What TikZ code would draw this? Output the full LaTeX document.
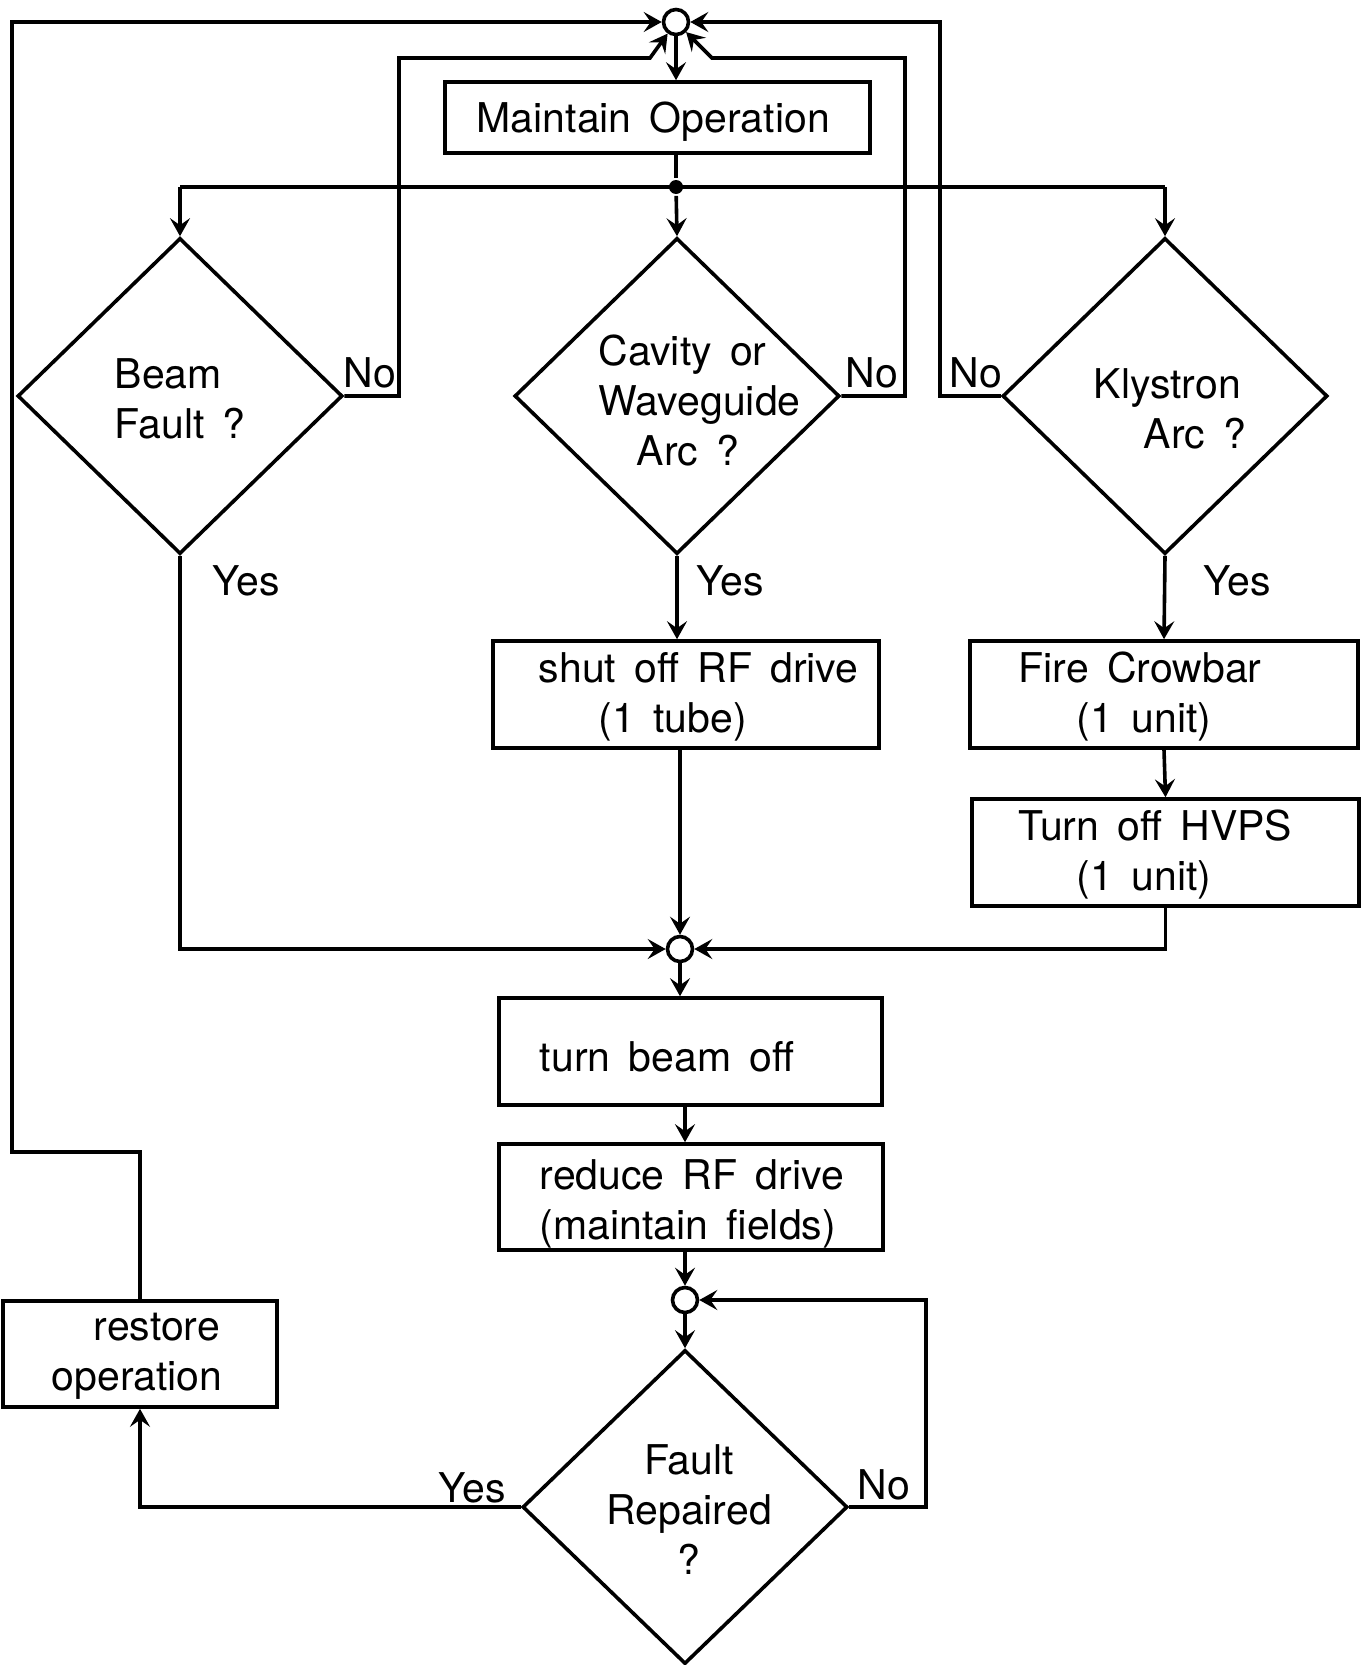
\documentclass[tikz,border=0pt]{standalone}
\usepackage{fontspec}
\setmainfont{TeX Gyre Heros}[WordSpace=1.6]
\usetikzlibrary{shapes.geometric,arrows.meta}
\begin{document}
\begin{tikzpicture}[x=0.5pt,y=-0.5pt,
  line width=1.8pt,
  >={Stealth[length=9pt,width=10pt,inset=3.5pt]},
  box/.style={draw,rectangle,inner sep=0pt},
  dia/.style={draw,diamond,inner sep=0pt,minimum width=162.5pt,minimum height=158pt},
  junc/.style={draw,circle,inner sep=0pt,minimum size=12.5pt,fill=white},
  jdot/.style={fill,circle,inner sep=0pt,minimum size=7pt},
  txt/.style={font=\fontsize{20.5}{25}\selectfont,inner sep=0pt},
  lbl/.style={font=\fontsize{20.5}{25}\selectfont,inner sep=0pt}]
\useasboundingbox (0,0) rectangle (1361,1665);

% junctions
\node[junc] (tc) at (676,22) {};
\node[jdot] (jd) at (676,187) {};
\node[junc] (mc) at (680,949) {};
\node[junc] (bc) at (685,1300) {};

% boxes
\node[box,minimum width=212.5pt,minimum height=35.5pt] (mo) at (657.5,117.5) {};
\node[box,minimum width=193pt,minimum height=53.5pt] (sh) at (686,694.5) {};
\node[box,minimum width=194pt,minimum height=53.5pt] (fc) at (1164,694.5) {};
\node[box,minimum width=193.5pt,minimum height=53.5pt] (hv) at (1165.5,852.5) {};
\node[box,minimum width=191.5pt,minimum height=53.5pt] (bo) at (690.5,1051.5) {};
\node[box,minimum width=192pt,minimum height=53pt] (rd) at (691,1197) {};
\node[box,minimum width=137pt,minimum height=53pt] (rs) at (140,1354) {};

% diamonds
\node[dia] (d1) at (180,396) {};
\node[dia] (d2) at (677,396) {};
\node[dia] (d3) at (1165,396) {};
\node[dia,minimum height=157pt] (d4) at (685,1507) {};

% texts
\node[txt,anchor=west] (tmo) at (475,122) {Maintain Operation};
\node[txt,anchor=west,align=left] (td1) at (113,399) {Beam\\Fault ?};
\node[txt,anchor=west,align=left] (td2) at (597,400) {Cavity or\\Waveguide\\\hspace*{19pt}Arc ?};
\node[txt,anchor=west,align=left] (td3) at (1092,409) {Klystron\\\hspace*{25pt}Arc ?};
\node[txt,anchor=west,align=left] (tsh) at (537,697) {shut off RF drive\\\hspace*{30pt}(1 tube)};
\node[txt,anchor=west,align=left] (tfc) at (1017,697) {Fire Crowbar\\\hspace*{29pt}(1 unit)};
\node[txt,anchor=west,align=left] (thv) at (1017,855) {Turn off HVPS\\\hspace*{29pt}(1 unit)};
\node[txt,anchor=west] (tbo) at (538,1057) {turn beam off};
\node[txt,anchor=west,align=left] (trd) at (538,1204) {reduce RF drive\\(maintain fields)};
\node[txt,anchor=west,align=left] (trs) at (50,1356) {\hspace*{21pt}restore\\operation};
\node[txt,align=center] (td4) at (689,1510) {Fault\\Repaired\\?};

% labels
\node[lbl] (n1) at (370,373) {No};
\node[lbl] (n2) at (872,373) {No};
\node[lbl] (n3) at (976,373) {No};
\node[lbl] (y1) at (246,581) {Yes};
\node[lbl] (y2) at (730,581) {Yes};
\node[lbl] (y3) at (1237,581) {Yes};
\node[lbl] (n4) at (884,1485) {No};
\node[lbl] (y4) at (472,1488) {Yes};

% top
\draw[->] (tc) -- (tc |- mo.north);
\draw (jd |- mo.south) -- (jd);
\draw (d1.north |- jd) -- (d3.north |- jd);
\draw[->] (d1.north |- jd) -- (d1.north);
\draw[->] (jd) -- (d2.north);
\draw[->] (d3.north |- jd) -- (d3.north);

% No loops
\draw[->] (d1.east) -- (399,396) -- (399,58) -- (650,58) -- (tc);
\draw[->] (d2.east) -- (905,396) -- (905,58) -- (712,58) -- (tc);
\draw[->] (d3.west) -- (940,396) -- (940,22) -- (tc);
\draw[->] (rs.north) -- (140,1152) -- (12,1152) -- (12,22) -- (tc);

% Yes paths
\draw[->] (d2.south) -- (d2.south |- sh.north);
\draw[->] (d3.south) -- (fc.north);
\draw[->] (fc.south) -- (hv.north);
\draw[->] (d1.south) |- (mc);
\draw[->] (mc |- sh.south) -- (mc);
\draw[->] (hv.south) |- (mc);

% lower chain
\draw[->] (mc) -- (mc |- bo.north);
\draw[->] (bc |- bo.south) -- (bc |- rd.north);
\draw[->] (bc |- rd.south) -- (bc);
\draw[->] (bc) -- (d4.north);
\draw[->] (d4.east) -- (926,1507) -- (926,1300) -- (bc);
\draw[->] (d4.west) -| (rs.south);
\end{tikzpicture}
\end{document}
